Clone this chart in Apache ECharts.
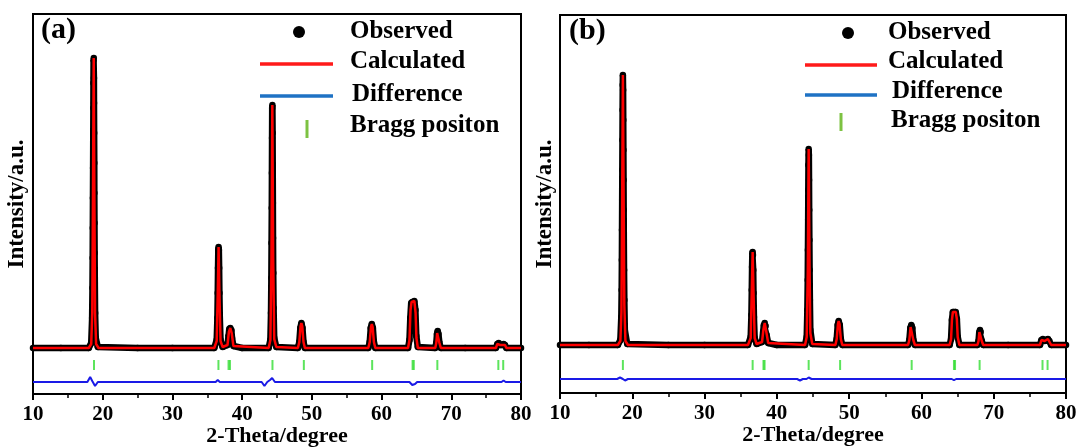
<!DOCTYPE html>
<html>
<head>
<meta charset="utf-8">
<script src="https://cdn.jsdelivr.net/npm/echarts/dist/echarts.min.js"></script>
<style>
html,body{margin:0;padding:0;background:#fff;}
#chart{width:1079px;height:448px;}
</style>
</head>
<body>
<div id="chart"></div>
<script>
// ---------- DATA (2-theta in degrees, intensity in arbitrary units above baseline) ----------
const xTicks = [10, 20, 30, 40, 50, 60, 70, 80];
const panelLabels = ['(a)', '(b)'];
const legendNames = ['Observed', 'Calculated', 'Difference', 'Bragg positon'];

// Panel (a) observed points
const obsA = [
 [10,0],[14,0],[18,0],
 [18.35,5],[18.48,30],[18.53,60],[18.56,90],[18.58,120],[18.6,150],[18.62,180],[18.64,210],[18.66,240],[18.67,265],[18.69,288],[18.72,290],[18.74,270],[18.75,245],[18.77,215],[18.79,185],[18.8,155],[18.82,125],[18.84,95],[18.87,65],[18.91,35],[19.0,10],[19.3,1],
 [25,0],[30,0],[36,0],
 [36.35,8],[36.45,30],[36.5,55],[36.54,80],[36.58,98],[36.62,101],[36.66,98],[36.7,80],[36.74,55],[36.8,30],[36.9,8],[37.2,1],
 [37.9,3],[38.05,12],[38.15,19],[38.3,20],[38.45,18],[38.55,10],[38.75,2],
 [40,0],[43.8,0],
 [44.05,8],[44.14,35],[44.19,70],[44.22,105],[44.25,140],[44.27,175],[44.29,210],[44.31,240],[44.34,243],[44.37,215],[44.39,180],[44.41,145],[44.43,110],[44.46,75],[44.51,40],[44.6,10],[44.9,1],
 [48.0,0],[48.2,6],[48.35,20],[48.5,25],[48.65,20],[48.8,6],[49.0,0],
 [58.1,0],[58.3,6],[58.45,20],[58.6,24],[58.75,20],[58.9,6],[59.1,0],
 [63.8,0],[64.0,8],[64.12,30],[64.25,45],[64.4,46],[64.55,44],[64.7,47],[64.85,38],[64.98,12],[65.2,1],
 [67.7,0],[67.85,5],[67.95,14],[68.05,17],[68.15,14],[68.3,5],[68.5,0],
 [72,0],[76.4,0],[76.6,4],[76.8,5],[77.0,3],[77.3,3],[77.5,4],[77.7,3],[77.9,0],[80,0]
];
// Panel (a) calculated profile
const calcA = [
 [10,0],[18.0,0],[18.35,4],[18.5,35],[18.6,150],[18.71,290],[18.8,155],[18.9,35],[19.05,4],[19.4,0],
 [36.0,0],[36.35,7],[36.5,55],[36.62,101],[36.74,55],[36.9,7],[37.2,1],
 [37.9,3],[38.1,16],[38.3,20],[38.5,15],[38.75,2],
 [43.8,0],[44.05,8],[44.2,85],[44.33,243],[44.45,90],[44.6,9],[44.9,1],
 [48.0,0],[48.2,6],[48.38,22],[48.5,25],[48.62,22],[48.8,6],[49.0,0],
 [58.1,0],[58.3,6],[58.48,21],[58.6,24],[58.72,21],[58.9,6],[59.1,0],
 [63.8,0],[64.0,8],[64.15,38],[64.3,46],[64.52,44],[64.7,47],[64.88,35],[65.0,10],[65.2,0],
 [67.7,0],[67.85,5],[67.97,15],[68.05,17],[68.15,15],[68.3,5],[68.5,0],
 [76.4,0],[76.6,4],[76.8,5],[77.0,3],[77.3,3],[77.5,4],[77.7,3],[77.9,0],[80,0]
];
// Panel (a) difference (obs - calc)
const diffA = [
 [10,0],[17.8,0],[18.2,5],[18.5,1],[18.9,-4],[19.3,0],
 [36.2,0],[36.5,2],[36.8,0],[38.0,0],[38.2,2],[38.4,0],
 [42.8,0],[43.2,-4],[43.6,0],[44.0,2],[44.3,4],[44.7,0],
 [48.3,0],[48.5,1],[48.7,0],[58.4,0],[58.6,1.5],[58.8,0],
 [64.0,0],[64.4,-3],[64.8,-2],[65.1,0],[67.9,0],[68.1,1],[68.3,0],
 [77.2,0],[77.5,1.5],[77.8,0],[80,0]
];

// Panel (b) observed points
const obsB = [
 [10,0],[14,0],[18,0],
 [18.35,5],[18.48,28],[18.53,55],[18.56,85],[18.58,115],[18.6,145],[18.62,175],[18.64,205],[18.66,235],[18.68,260],[18.7,270],[18.73,255],[18.75,225],[18.77,195],[18.79,165],[18.81,135],[18.83,105],[18.86,75],[18.9,45],[18.97,15],[19.3,1],
 [25,0],[30,0],[36,0],
 [36.38,8],[36.48,30],[36.53,55],[36.57,78],[36.61,92],[36.65,93],[36.69,90],[36.73,75],[36.77,52],[36.83,28],[36.93,7],[37.2,1],
 [37.95,3],[38.1,13],[38.2,20],[38.32,22],[38.45,19],[38.57,10],[38.8,2],
 [40,0],[43.9,0],
 [44.13,8],[44.22,35],[44.27,65],[44.3,95],[44.33,125],[44.35,155],[44.37,180],[44.4,196],[44.43,190],[44.45,165],[44.47,135],[44.5,105],[44.53,75],[44.57,45],[44.63,15],[44.9,1],
 [48.1,0],[48.28,6],[48.42,20],[48.55,24],[48.7,20],[48.85,6],[49.05,0],
 [58.15,0],[58.33,5],[58.47,17],[58.6,20],[58.73,17],[58.88,5],[59.1,0],
 [63.9,0],[64.1,6],[64.22,25],[64.35,33],[64.55,32],[64.75,33],[64.9,26],[65.02,8],[65.25,0],
 [67.75,0],[67.9,4],[68.0,13],[68.1,15],[68.2,13],[68.35,4],[68.55,0],
 [72,0],[76.4,0],[76.6,5],[76.8,6],[77.05,4],[77.3,5],[77.5,6],[77.7,4],[77.95,0],[80,0]
];
// Panel (b) calculated profile
const calcB = [
 [10,0],[18.0,0],[18.35,4],[18.5,33],[18.6,145],[18.7,270],[18.8,150],[18.9,40],[19.05,4],[19.4,0],
 [36.0,0],[36.38,7],[36.53,55],[36.65,93],[36.77,52],[36.93,7],[37.2,1],
 [37.95,3],[38.15,16],[38.32,22],[38.5,15],[38.8,2],
 [43.9,0],[44.13,8],[44.28,75],[44.4,196],[44.52,80],[44.63,12],[44.9,1],
 [48.1,0],[48.28,6],[48.45,21],[48.55,24],[48.67,21],[48.85,6],[49.05,0],
 [58.15,0],[58.33,5],[58.5,18],[58.6,20],[58.7,18],[58.88,5],[59.1,0],
 [63.9,0],[64.1,6],[64.22,25],[64.35,33],[64.55,32],[64.75,33],[64.9,26],[65.02,8],[65.25,0],
 [67.75,0],[67.9,4],[68.02,13],[68.1,15],[68.18,13],[68.35,4],[68.55,0],
 [76.4,0],[76.6,5],[76.8,6],[77.05,4],[77.3,5],[77.5,6],[77.7,4],[77.95,0],[80,0]
];
// Panel (b) difference
const diffB = [
 [10,0],[17.9,0],[18.3,1.5],[18.7,0],[19.0,-1.5],[19.4,0],
 [36.4,0],[36.6,1],[36.8,0],[38.1,0],[38.3,1],[38.5,0],
 [42.8,0],[43.2,-1.5],[43.6,0],[44.1,0],[44.4,1.5],[44.8,0],
 [58.5,0],[58.7,0.8],[58.9,0],[64.2,0],[64.5,-1.2],[64.8,0],[80,0]
];

// Bragg reflection positions (2-theta)
const braggA = [18.75, 36.6, 38.05, 38.25, 44.35, 48.85, 58.65, 64.45, 64.62, 68.0, 76.75, 77.45];
const braggB = [18.7, 36.65, 38.15, 38.3, 44.4, 48.75, 58.65, 64.5, 64.65, 68.05, 76.75, 77.45];

// ---------- LAYOUT / STYLE ----------
const FONT = 'Liberation Serif, Times New Roman, serif';
const DIFF_OFFSET = [-34, -34];
const BRAGG_Y = [-17, -20];
const yRange = [[-46, 334], [-48, 330]];
const grids = [
  {left: 33, right: 558, top: 14, bottom: 54},
  {left: 560, right: 13, top: 15, bottom: 55}
];

const chart = echarts.init(document.getElementById('chart'), null, {renderer: 'canvas'});

function xAxisFor(i) {
  return {
    type: 'value', gridIndex: i, min: xTicks[0], max: xTicks[xTicks.length - 1], interval: 10,
    name: '2-Theta/degree', nameLocation: 'middle', nameGap: 31, nameMoveOverlap: false,
    nameTextStyle: {fontFamily: FONT, fontWeight: 'bold', fontSize: 22, color: '#000'},
    axisLine: {show: true, onZero: false, lineStyle: {color: '#000', width: 2}},
    axisTick: {show: true, inside: false, length: 6, lineStyle: {color: '#000', width: 2}},
    minorTick: {show: true, splitNumber: 2, length: 4, lineStyle: {color: '#000', width: 1.5}},
    axisLabel: {fontFamily: FONT, fontWeight: 'bold', fontSize: 21, color: '#000', margin: 10},
    splitLine: {show: false}
  };
}
function yAxisFor(i) {
  return {
    type: 'value', gridIndex: i, min: yRange[i][0], max: yRange[i][1],
    name: 'Intensity/a.u.', nameLocation: 'middle', nameGap: i === 0 ? 4 : 3, nameMoveOverlap: false,
    nameTextStyle: {fontFamily: FONT, fontWeight: 'bold', fontSize: 23, color: '#000'},
    axisLine: {show: true, onZero: false, lineStyle: {color: '#000', width: 2}},
    axisTick: {show: false}, axisLabel: {show: false}, splitLine: {show: false}
  };
}

const obs = [obsA, obsB], calc = [calcA, calcB], diff = [diffA, diffB], bragg = [braggA, braggB];
const series = [];
for (let i = 0; i < 2; i++) {
  series.push({
    type: 'line', xAxisIndex: i, yAxisIndex: i, data: obs[i], z: 2,
    showSymbol: true, symbol: 'circle', symbolSize: 6.5,
    itemStyle: {color: '#000'}, lineStyle: {color: '#000', width: 6.5}, silent: true
  });
  series.push({
    type: 'line', xAxisIndex: i, yAxisIndex: i, data: calc[i], z: 3,
    showSymbol: false, lineStyle: {color: '#ff0000', width: 2.5}, silent: true
  });
  series.push({
    type: 'line', xAxisIndex: i, yAxisIndex: i, z: 3,
    data: diff[i].map(p => [p[0], p[1] + DIFF_OFFSET[i]]),
    showSymbol: false, lineStyle: {color: '#1a1ae6', width: 2}, silent: true
  });
  series.push({
    type: 'scatter', xAxisIndex: i, yAxisIndex: i, z: 3,
    data: bragg[i].map(x => [x, BRAGG_Y[i]]),
    symbol: 'rect', symbolSize: [2, 10], itemStyle: {color: '#33dd33'}, silent: true
  });
}

// legend + panel labels as graphics
const legends = [
  {dot: [299, 32], lineX: [260, 333], lineY: [64, 96], bragg: [307, 129], textX: [350, 350, 352, 350], textY: [32, 62, 95, 126]},
  {dot: [848, 33], lineX: [805, 877], lineY: [65, 95], bragg: [841, 122], textX: [888, 888, 892, 891], textY: [33, 62, 92, 121]}
];
const panelPos = [[41, 32], [569, 33]];
const graphic = [];
for (let i = 0; i < 2; i++) {
  const L = legends[i];
  graphic.push({type: 'text', left: panelPos[i][0], top: panelPos[i][1] - 17,
    style: {text: panelLabels[i], font: 'bold 30px ' + FONT, fill: '#000'}});
  graphic.push({type: 'circle', shape: {cx: L.dot[0], cy: L.dot[1], r: 6}, style: {fill: '#000'}});
  graphic.push({type: 'line', shape: {x1: L.lineX[0], y1: L.lineY[0], x2: L.lineX[1], y2: L.lineY[0]},
    style: {stroke: '#ff1a1a', lineWidth: 3.5}});
  graphic.push({type: 'line', shape: {x1: L.lineX[0], y1: L.lineY[1], x2: L.lineX[1], y2: L.lineY[1]},
    style: {stroke: '#1e72c4', lineWidth: 3.5}});
  graphic.push({type: 'rect', shape: {x: L.bragg[0] - 1.5, y: L.bragg[1] - 9, width: 3, height: 18},
    style: {fill: '#7dc242'}});
  for (let k = 0; k < 4; k++) {
    graphic.push({type: 'text', x: L.textX[k], y: L.textY[k],
      style: {text: legendNames[k], font: 'bold 25px ' + FONT, fill: '#000', textVerticalAlign: 'middle', verticalAlign: 'middle'}});
  }
}

chart.setOption({
  animation: false,
  backgroundColor: '#fff',
  grid: grids.map(g => Object.assign({show: true, borderColor: '#000', borderWidth: 2, backgroundColor: 'transparent',
    containLabel: false, outerBoundsMode: 'none'}, g)),
  xAxis: [xAxisFor(0), xAxisFor(1)],
  yAxis: [yAxisFor(0), yAxisFor(1)],
  series: series,
  graphic: graphic
});
</script>
</body>
</html>
